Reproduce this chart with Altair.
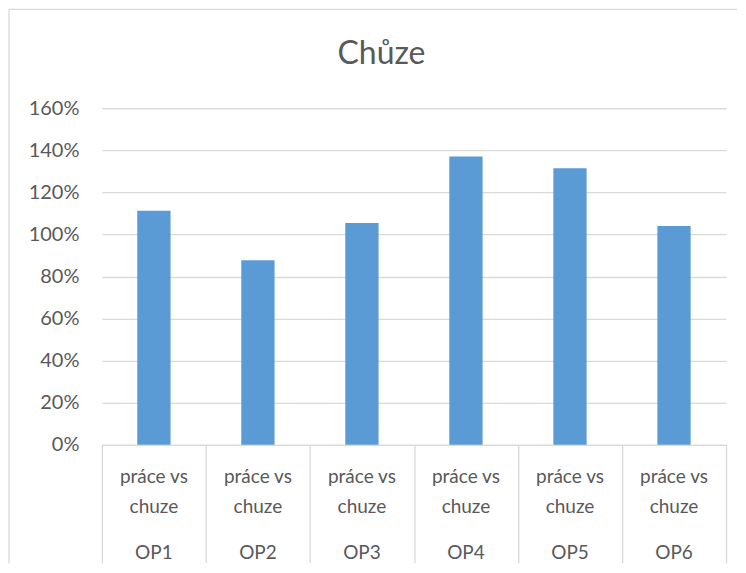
import altair as alt
import pandas as pd

# data
categories = ["OP1", "OP2", "OP3", "OP4", "OP5", "OP6"]
sublabels = ["práce vs\nchuze"] * 6
values = [1.113, 0.877, 1.054, 1.371, 1.315, 1.040]
y_ticks = [0, 0.2, 0.4, 0.6, 0.8, 1.0, 1.2, 1.4, 1.6]
title_text = "Chůze"

df = pd.DataFrame({"cat": categories, "sub": sublabels, "val": values})

FONT = "Lato"
TXT = "#595959"
GRID = "#d9d9d9"
W, H = 625, 337

xenc = alt.X(
    "cat:N",
    sort=categories,
    title=None,
    scale=alt.Scale(paddingInner=0, paddingOuter=0),
    axis=alt.Axis(
        labels=False,
        ticks=True,
        tickBand="extent",
        tickSize=118,
        tickColor=GRID,
        tickWidth=1.3,
        domainColor=GRID,
        domainWidth=1.3,
        grid=False,
    ),
)

bars = alt.Chart(df).mark_bar(width={"band": 0.32}, color="#5b9bd5").encode(
    x=xenc,
    y=alt.Y(
        "val:Q",
        title=None,
        scale=alt.Scale(domain=[0, 1.6], nice=False),
        axis=alt.Axis(
            values=y_ticks,
            format=".0%",
            domain=False,
            ticks=False,
            gridColor=GRID,
            gridWidth=1.3,
            labelFont=FONT,
            labelFontSize=20,
            labelColor=TXT,
            labelPadding=23,
        ),
    ),
)

sub_text = alt.Chart(df).mark_text(
    font=FONT, fontSize=19, color=TXT, align="center", baseline="alphabetic",
    lineBreak="\n", lineHeight=30,
).encode(x=alt.X("cat:N", sort=categories), y=alt.value(375), text="sub:N")

op_text = alt.Chart(df).mark_text(
    font=FONT, fontSize=19, color=TXT, align="center", baseline="alphabetic",
).encode(x=alt.X("cat:N", sort=categories), y=alt.value(451), text="cat:N")

title_df = pd.DataFrame({"t": [title_text]})
title = alt.Chart(title_df).mark_text(
    font=FONT, fontSize=32, color=TXT, align="center", baseline="alphabetic",
).encode(x=alt.value(280), y=alt.value(-44), text="t:N")

border_df = pd.DataFrame({"k": [0]})
vborder = alt.Chart(border_df).mark_rule(color=GRID, strokeWidth=1.3).encode(
    x=alt.value(-93), y=alt.value(-99), y2=alt.value(456)
)
hborder = alt.Chart(border_df).mark_rule(color=GRID, strokeWidth=1.3).encode(
    x=alt.value(-93), x2=alt.value(636), y=alt.value(-99)
)

chart = alt.layer(bars, sub_text, op_text, title, vborder, hborder).properties(
    width=W, height=H, padding=0, background="white"
).configure_view(stroke=None)

chart.save("out.html", embed_options={"renderer": "svg", "actions": False})
